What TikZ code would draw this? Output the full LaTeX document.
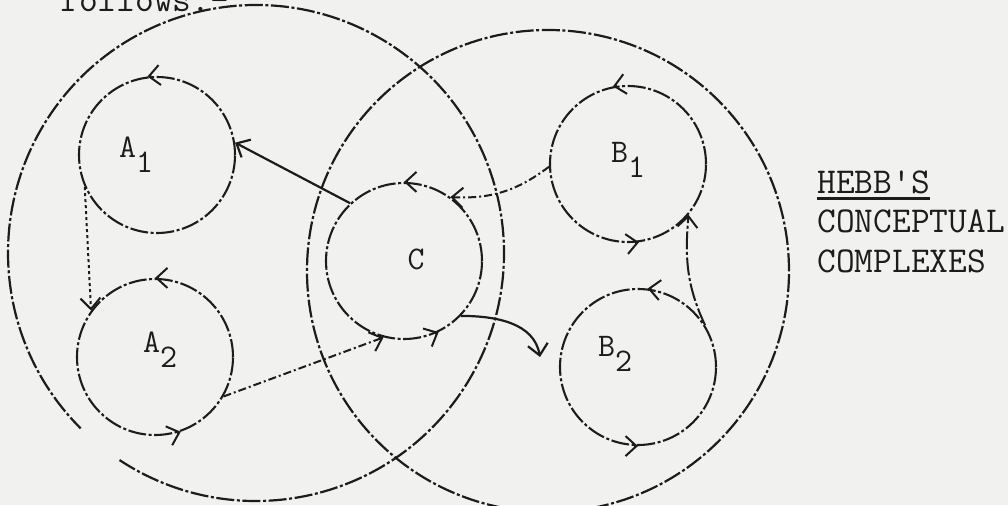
\documentclass[tikz,border=0pt]{standalone}
\usepackage{fontspec}
\usetikzlibrary{arrows.meta,calc}
\definecolor{paper}{RGB}{241,241,239}
\definecolor{ink}{RGB}{28,28,28}
\begin{document}
\begin{tikzpicture}[x=0.5pt,y=0.5pt,
  pen/.style={draw=ink,line width=1.05pt,dash pattern=on 9pt off 1.3pt on 1.5pt off 1.3pt},
  cell/.style={pen,circle,minimum size=78pt,inner sep=0pt},
  lab/.style={font=\ttfamily\fontsize{16.5}{16.5}\selectfont,text=ink,inner sep=0pt},
  side/.style={font=\ttfamily\fontsize{18.2}{18}\selectfont,text=ink,anchor=base west,inner sep=0pt},
  tip/.style={-{Straight Barb[length=5.5pt,width=10pt]},draw=ink,line width=1pt,solid},
]
\path[use as bounding box, fill=paper] (0,0) rectangle (1008,505);
\clip (0,0) rectangle (1008,505);
% big circles
\draw[pen,line width=1.1pt] (256,252) ++(236.6:124pt) arc[start angle=236.6,end angle=585,radius=124pt];
\draw[pen,line width=1.1pt] (548,234) circle[radius=120.5pt];
% small circles
\node[cell] (A1) at (157,350) {};
\node[cell] (A2) at (155,148) {};
\node[cell] (C) at (404,244) {};
\node[cell] (B1) at (628,341) {};
\node[cell] (B2) at (638,138) {};
% labels
\node[lab] (A1t) at (136,350) {A\raisebox{-0.45em}{1}};
\node[lab] (A2t) at (160,155) {A\raisebox{-0.45em}{2}};
\node[lab] (Ct) at (416,246) {C};
\node[lab] (B1t) at (628,345) {B\raisebox{-0.45em}{1}};
\node[lab] (B2t) at (615,151) {B\raisebox{-0.45em}{2}};
% arrowheads on the circles
\foreach \n/\a in {A1/97,A2/90,A2/-71,C/90,C/-64,B1/101,B1/-82,B2/83,B2/-90}
  \draw[tip] ([shift={(\a-90:2pt)}]\n.\a) -- (\n.\a);
% connectors
\coordinate (c2) at (540,148);
\draw[tip,line width=1.1pt] (C.133) -- (A1.9);
\draw[tip,dash pattern=on 1.5pt off 1.5pt] (A1.204) -- (A2.144);
\draw[tip,dash pattern=on 4pt off 1.5pt on 1pt off 1.5pt] (A2.-30) -- (C.255);
\draw[tip,dash pattern=on 4pt off 1.5pt on 1pt off 1.5pt] (B1.182) to[bend left=20] (C.54);
\draw[tip,line width=1.1pt] (C.-44) to[out=0,in=100] (c2);
\draw[tip,dash pattern=on 9pt off 1.3pt on 1.5pt off 1.3pt] (B2.32) to[out=115,in=-95] (B1.-40);
% text
\node[side] (h1) at (817,312) {HEBB'S};
\draw[draw=ink,line width=1.4pt] ($(h1.south west)+(0,-5)$) -- ($(h1.south east)+(0,-5)$);
\node[side] (h2) at (817,273) {CONCEPTUAL};
\node[side] (h3) at (817,233) {COMPLEXES};
\node[side] (fol) at (60,494) {follows.-};
\end{tikzpicture}
\end{document}
